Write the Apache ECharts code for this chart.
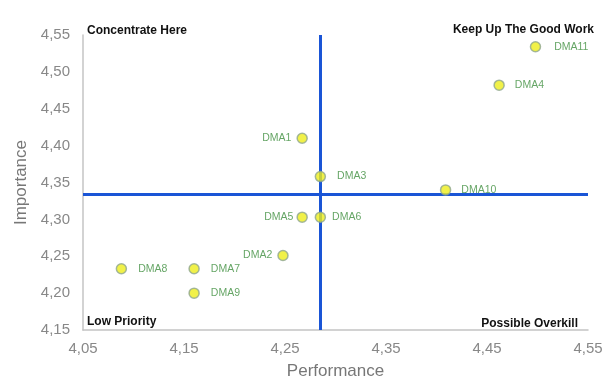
<!DOCTYPE html>
<html>
<head>
<meta charset="utf-8">
<script src="https://cdn.jsdelivr.net/npm/echarts@6/dist/echarts.min.js"></script>
<style>
  html, body { margin: 0; padding: 0; background: #fff; }
  #chart { width: 610px; height: 380px; }
</style>
</head>
<body>
<div id="chart"></div>
<script>
// Importance / performance matrix per DMA
const names       = ['DMA11', 'DMA4', 'DMA1', 'DMA3', 'DMA10', 'DMA5', 'DMA6', 'DMA2', 'DMA8', 'DMA7', 'DMA9'];
const performance = [4.498, 4.462, 4.267, 4.285, 4.409, 4.267, 4.285, 4.248, 4.088, 4.160, 4.160];
const importance  = [4.534, 4.482, 4.410, 4.358, 4.340, 4.303, 4.303, 4.251, 4.233, 4.233, 4.200];

// quadrant dividers (average performance / average importance)
const perfDivider = 4.285;
const impDivider  = 4.334;

const quadrantTitles = ['Concentrate Here', 'Keep Up The Good Work', 'Low Priority', 'Possible Overkill'];

// label placement for each point
const labelStyle = {
  DMA11: ['right', 13], DMA4: ['right', 10], DMA1: ['left', 5], DMA3: ['right', 11],
  DMA10: ['right', 10], DMA5: ['left', 3], DMA6: ['right', 6], DMA2: ['left', 5],
  DMA8: ['right', 11], DMA7: ['right', 11], DMA9: ['right', 11]
};

const fmt = v => Number(v).toFixed(2).replace('.', ',');

const points = names.map((n, i) => ({
  name: n,
  value: [performance[i], importance[i]],
  label: { position: labelStyle[n][0], distance: labelStyle[n][1] }
}));

const chart = echarts.init(document.getElementById('chart'), null, { renderer: 'canvas' });

const titleFont = { fontFamily: 'Liberation Sans, Arial', fontSize: 12, fontWeight: 'bold', fill: '#111' };
const axisFont = 'Liberation Sans, Arial';

chart.setOption({
  animation: false,
  backgroundColor: '#fff',
  grid: { left: 83, right: 22, top: 35, bottom: 50, outerBoundsMode: 'none' },
  xAxis: {
    type: 'value',
    min: 4.05, max: 4.55, interval: 0.1,
    name: 'Performance',
    nameLocation: 'middle',
    nameGap: 33,
    nameTextStyle: { color: '#777', fontSize: 17, fontFamily: axisFont },
    axisLine: { show: true, lineStyle: { color: '#c4c4c4', width: 1.5 } },
    axisTick: { show: false },
    splitLine: { show: false },
    axisLabel: { color: '#888', fontSize: 15, fontFamily: axisFont, margin: 11, formatter: fmt }
  },
  yAxis: {
    type: 'value',
    min: 4.15, max: 4.55, interval: 0.05,
    name: 'Importance',
    nameLocation: 'middle',
    nameGap: 52,
    nameTextStyle: { color: '#777', fontSize: 17, fontFamily: axisFont },
    axisLine: { show: true, lineStyle: { color: '#c4c4c4', width: 1.5 } },
    axisTick: { show: false },
    splitLine: { show: false },
    axisLabel: { color: '#888', fontSize: 15, fontFamily: axisFont, margin: 13, formatter: fmt }
  },
  graphic: [
    { type: 'text', left: 87, top: 25, style: Object.assign({ text: quadrantTitles[0] }, titleFont) },
    { type: 'text', right: 16, top: 24, style: Object.assign({ text: quadrantTitles[1] }, titleFont) },
    { type: 'text', left: 87, top: 316, style: Object.assign({ text: quadrantTitles[2] }, titleFont) },
    { type: 'text', right: 32, top: 318, style: Object.assign({ text: quadrantTitles[3] }, titleFont) }
  ],
  series: [{
    type: 'scatter',
    data: points,
    symbolSize: 10,
    z: 5,
    itemStyle: { color: '#eded1c', borderColor: '#8fa68f', borderWidth: 1.5 },
    label: {
      show: true,
      formatter: p => p.name,
      color: '#3f8f3f',
      fontSize: 10.5,
      fontFamily: axisFont
    },
    markLine: {
      silent: true,
      symbol: 'none',
      precision: 4,
      z: 3,
      label: { show: false },
      lineStyle: { color: '#1a55d6', width: 3, type: 'solid' },
      data: [
        { xAxis: perfDivider },
        { yAxis: impDivider }
      ]
    }
  }]
});
</script>
</body>
</html>
